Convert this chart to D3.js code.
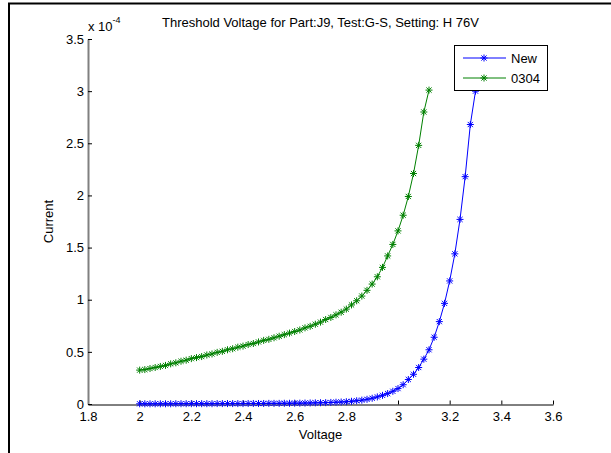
<!DOCTYPE html>
<html>
<head>
<meta charset="utf-8">
<script src="https://cdn.jsdelivr.net/npm/d3@7"></script>
<style>
  body { margin: 0; background: #fff; }
  svg text { font-family: "Liberation Sans", Arial, sans-serif; fill: #000; }
</style>
</head>
<body>
<svg id="chart" width="611" height="453"></svg>
<script>
// current values are in units of 1e-4 A (the axis carries the "x 10^-4" factor)
var xTicks = [1.8, 2, 2.2, 2.4, 2.6, 2.8, 3, 3.2, 3.4, 3.6];
var yTicks = [0, 0.5, 1, 1.5, 2, 2.5, 3, 3.5];
var seriesNames = ["New", "0304"];
var seriesColors = ["#0000ff", "#008000"];

var newVoltage = [2.00, 2.02, 2.04, 2.06, 2.08, 2.10, 2.12, 2.14, 2.16, 2.18,
  2.20, 2.22, 2.24, 2.26, 2.28, 2.30, 2.32, 2.34, 2.36, 2.38,
  2.40, 2.42, 2.44, 2.46, 2.48, 2.50, 2.52, 2.54, 2.56, 2.58,
  2.60, 2.62, 2.64, 2.66, 2.68, 2.70, 2.72, 2.74, 2.76, 2.78,
  2.80, 2.82, 2.84, 2.86, 2.88, 2.90, 2.92, 2.94, 2.96, 2.98,
  3.00, 3.02, 3.04, 3.06, 3.08, 3.10, 3.12, 3.14, 3.16, 3.18,
  3.20, 3.22, 3.24, 3.26, 3.28, 3.30];
var newCurrent = [0.002, 0.002, 0.002, 0.002, 0.002, 0.002, 0.002, 0.003, 0.003, 0.003,
  0.003, 0.003, 0.003, 0.003, 0.003, 0.004, 0.004, 0.004, 0.004, 0.004,
  0.004, 0.005, 0.005, 0.005, 0.005, 0.006, 0.006, 0.006, 0.007, 0.007,
  0.008, 0.008, 0.009, 0.010, 0.011, 0.012, 0.013, 0.015, 0.017, 0.019,
  0.022, 0.026, 0.031, 0.037, 0.045, 0.055, 0.068, 0.083, 0.100, 0.122,
  0.148, 0.185, 0.235, 0.285, 0.350, 0.430, 0.520, 0.640, 0.790, 0.965,
  1.180, 1.440, 1.770, 2.180, 2.680, 3.000];

var oldVoltage = [2.00, 2.02, 2.04, 2.06, 2.08, 2.10, 2.12, 2.14, 2.16, 2.18,
  2.20, 2.22, 2.24, 2.26, 2.28, 2.30, 2.32, 2.34, 2.36, 2.38,
  2.40, 2.42, 2.44, 2.46, 2.48, 2.50, 2.52, 2.54, 2.56, 2.58,
  2.60, 2.62, 2.64, 2.66, 2.68, 2.70, 2.72, 2.74, 2.76, 2.78,
  2.80, 2.82, 2.84, 2.86, 2.88, 2.90, 2.92, 2.94, 2.96, 2.98,
  3.00, 3.02, 3.04, 3.06, 3.08, 3.10, 3.12];
var oldCurrent = [0.325, 0.330, 0.340, 0.350, 0.360, 0.370, 0.385, 0.395, 0.410, 0.420,
  0.435, 0.445, 0.455, 0.470, 0.480, 0.495, 0.505, 0.520, 0.530, 0.545,
  0.555, 0.570, 0.580, 0.595, 0.610, 0.620, 0.635, 0.650, 0.665, 0.680,
  0.695, 0.710, 0.730, 0.745, 0.765, 0.785, 0.810, 0.830, 0.855, 0.880,
  0.910, 0.950, 0.990, 1.035, 1.090, 1.150, 1.220, 1.310, 1.420, 1.530,
  1.660, 1.810, 1.990, 2.210, 2.480, 2.800, 3.010];

var plotLeft = 88, plotRight = 553, plotTop = 39, plotBottom = 404;
var starPath = "M-3.5,0H3.5M0,-3.5V3.5M-2.6,-2.6L2.6,2.6M-2.6,2.6L2.6,-2.6";

var svg = d3.select("#chart");
var x = d3.scaleLinear().domain([1.8, 3.6]).range([plotLeft, plotRight]);
var y = d3.scaleLinear().domain([0, 3.5]).range([plotBottom, plotTop]);

// figure frame (only top and left edges show in the picture)
svg.append("path").attr("d", "M9,453V3.5H611").attr("fill", "none")
  .attr("stroke", "#000").attr("stroke-width", 2);

// axes
var xAxis = svg.append("g").attr("transform", "translate(0," + (plotBottom + 0.5) + ")")
  .call(d3.axisBottom(x).tickValues(xTicks).tickFormat(d3.format("~g"))
    .tickSizeInner(-4).tickSizeOuter(0).tickPadding(7));
xAxis.selectAll("text").style("font-size", "13px");
xAxis.select(".domain").attr("stroke", "#000");

var yAxis = svg.append("g").attr("transform", "translate(" + plotLeft + ",0)")
  .call(d3.axisLeft(y).tickValues(yTicks).tickFormat(d3.format("~g"))
    .tickSizeInner(-4).tickSizeOuter(0).tickPadding(4));
yAxis.selectAll("text").style("font-size", "13px");
yAxis.select(".domain").attr("stroke", "#808080").attr("stroke-width", 2);
xAxis.attr("font-family", null);
yAxis.attr("font-family", null);

// exponent label
var expo = svg.append("text").attr("x", plotLeft).attr("y", 31).style("font-size", "13px");
expo.append("tspan").text("x 10");
expo.append("tspan").attr("dy", -8).style("font-size", "9px").text("-4");

// titles
svg.append("text").attr("x", (plotLeft + plotRight) / 2).attr("y", 27)
  .attr("text-anchor", "middle").style("font-size", "13px")
  .text("Threshold Voltage for Part:J9, Test:G-S, Setting: H 76V");
svg.append("text").attr("x", (plotLeft + plotRight) / 2).attr("y", 439)
  .attr("text-anchor", "middle").style("font-size", "13px").text("Voltage");
svg.append("text").attr("transform", "translate(53," + (plotTop + plotBottom) / 2 + ") rotate(-90)")
  .attr("text-anchor", "middle").style("font-size", "13px").text("Current");

function drawSeries(volts, amps, color) {
  var pts = volts.map(function(v, i) { return [v, amps[i]]; });
  var line = d3.line().x(function(d) { return x(d[0]); }).y(function(d) { return y(d[1]); });
  svg.append("path").datum(pts).attr("d", line).attr("fill", "none")
    .attr("stroke", color).attr("stroke-width", 1);
  svg.append("g").selectAll("path").data(pts).enter().append("path")
    .attr("transform", function(d) { return "translate(" + x(d[0]) + "," + y(d[1]) + ")"; })
    .attr("d", starPath).attr("fill", "none").attr("stroke", color).attr("stroke-width", 1);
}

drawSeries(newVoltage, newCurrent, seriesColors[0]);
drawSeries(oldVoltage, oldCurrent, seriesColors[1]);

// legend
var legend = svg.append("g").attr("transform", "translate(454,45)");
legend.append("rect").attr("x", 0.5).attr("y", 0.5).attr("width", 93).attr("height", 45)
  .attr("fill", "#fff").attr("stroke", "#000");
seriesNames.forEach(function(name, i) {
  var ly = 13 + i * 20;
  legend.append("line").attr("x1", 9).attr("x2", 52).attr("y1", ly).attr("y2", ly)
    .attr("stroke", seriesColors[i]);
  legend.append("path").attr("transform", "translate(30," + ly + ")").attr("d", starPath)
    .attr("fill", "none").attr("stroke", seriesColors[i]);
  legend.append("text").attr("x", 57).attr("y", ly + 5).style("font-size", "13px").text(name);
});
</script>
</body>
</html>
